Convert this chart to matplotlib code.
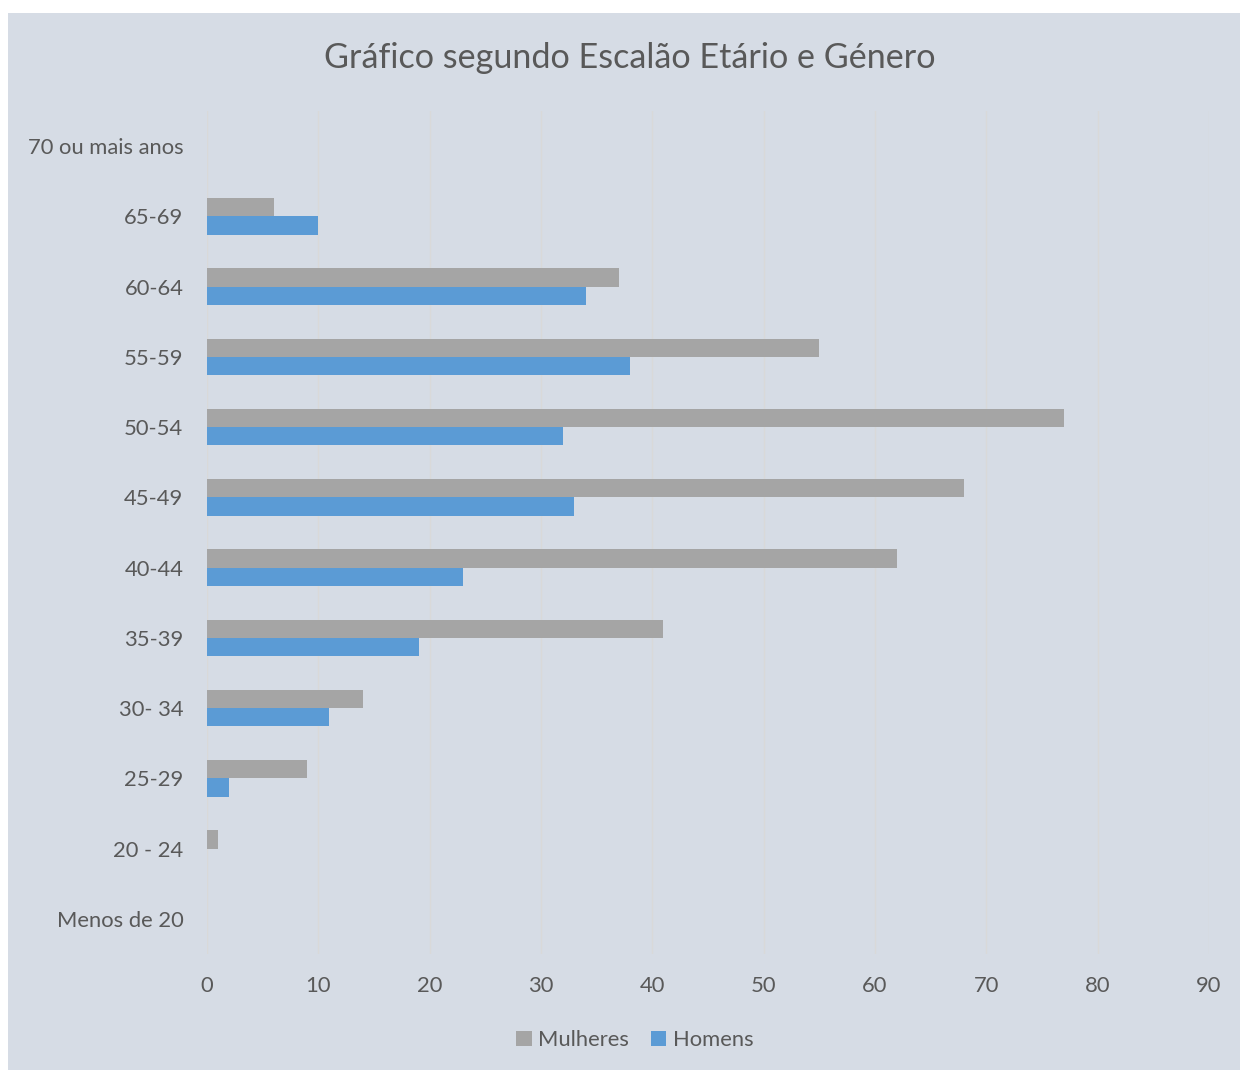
import numpy as np
import matplotlib.pyplot as plt
from matplotlib.patches import Rectangle

categories = [
    "Menos de 20",
    "20 - 24",
    "25-29",
    "30- 34",
    "35-39",
    "40-44",
    "45-49",
    "50-54",
    "55-59",
    "60-64",
    "65-69",
    "70 ou mais anos",
]
mulheres = [0, 1, 9, 14, 41, 62, 68, 77, 55, 37, 6, 0]
homens = [0, 0, 2, 11, 19, 23, 33, 32, 38, 34, 10, 0]
xticks = [0, 10, 20, 30, 40, 50, 60, 70, 80, 90]

bg = "#D6DCE5"
txt = "#595959"
plt.rcParams["font.family"] = ["Lato", "DejaVu Sans"]

fig = plt.figure(figsize=(12.4, 10.7), dpi=100)
fig.patches.append(
    Rectangle((8 / 1240, 0), 1, 1 - 13 / 1070, transform=fig.transFigure,
              facecolor=bg, edgecolor="none", zorder=-10)
)

ax = fig.add_axes([207 / 1240, 1 - 954 / 1070, 1002 / 1240, 843 / 1070])
ax.set_facecolor("none")

y = np.arange(len(categories))
h = 0.26
ax.barh(y + h / 2, mulheres, height=h, color="#A5A5A5", label="Mulheres", zorder=3)
ax.barh(y - h / 2, homens, height=h, color="#5B9BD5", label="Homens", zorder=3)

ax.set_xlim(0, 90)
ax.set_ylim(-0.5, len(categories) - 0.5)
ax.set_xticks(xticks)
ax.set_yticks(y)
ax.set_yticklabels(categories)
ax.tick_params(axis="both", length=0, labelsize=15.8, colors=txt)
ax.tick_params(axis="y", pad=17)
ax.tick_params(axis="x", pad=16)
ax.grid(axis="x", color="#D9D9D9", linewidth=1, zorder=0)
for s in ax.spines.values():
    s.set_visible(False)

fig.text(630 / 1240, 1 - 58 / 1070, "Gráfico segundo Escalão Etário e Género",
         ha="center", va="center", fontsize=24.6, color=txt)

leg = fig.legend(loc="center", bbox_to_anchor=(635 / 1240, 1 - 1040 / 1070),
                 ncol=2, frameon=False, fontsize=15.8, handlelength=0.7,
                 handleheight=0.7, handletextpad=0.3, columnspacing=1.0)
for t in leg.get_texts():
    t.set_color(txt)

fig.savefig("out.png", dpi=100, facecolor="white")
